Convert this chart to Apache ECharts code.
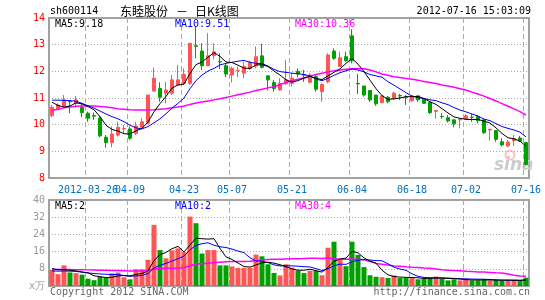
<!DOCTYPE html>
<html><head><meta charset="utf-8">
<script src="https://cdn.jsdelivr.net/npm/echarts@6/dist/echarts.min.js"></script>
<style>html,body{margin:0;padding:0;background:#fff;}#c{width:545px;height:300px;}</style>
</head><body><div id="c"></div>
<script>
const dates = ['2012-03-16','2012-03-19','2012-03-20','2012-03-21','2012-03-22','2012-03-23','2012-03-26','2012-03-27','2012-03-28','2012-03-29',
'2012-03-30','2012-04-05','2012-04-06','2012-04-09','2012-04-10','2012-04-11','2012-04-12','2012-04-13','2012-04-17','2012-04-18',
'2012-04-19','2012-04-20','2012-04-23','2012-04-24','2012-04-25','2012-04-26','2012-04-27','2012-05-02','2012-05-03','2012-05-04',
'2012-05-07','2012-05-08','2012-05-09','2012-05-10','2012-05-11','2012-05-14','2012-05-15','2012-05-16','2012-05-17','2012-05-18',
'2012-05-21','2012-05-22','2012-05-23','2012-05-24','2012-05-25','2012-05-28','2012-05-29','2012-05-30','2012-05-31','2012-06-01',
'2012-06-04','2012-06-05','2012-06-06','2012-06-07','2012-06-08','2012-06-11','2012-06-12','2012-06-13','2012-06-14','2012-06-15',
'2012-06-18','2012-06-19','2012-06-20','2012-06-21','2012-06-25','2012-06-26','2012-06-27','2012-06-28','2012-06-29','2012-07-02',
'2012-07-03','2012-07-04','2012-07-05','2012-07-06','2012-07-09','2012-07-10','2012-07-11','2012-07-12','2012-07-13','2012-07-16'];

const tickDates  = ['2012-03-26','2012-04-09','2012-04-23','2012-05-07','2012-05-21','2012-06-04','2012-06-18','2012-07-02','2012-07-16'];
const tickLabels = ['2012-03-26','04-09','04-23','05-07','05-21','06-04','06-18','07-02','07-16'];

const openP = [10.34,10.60,10.70,10.88,10.80,10.65,10.43,10.34,10.24,9.53,
9.33,9.61,9.84,9.84,9.68,9.90,10.05,11.26,11.36,11.18,
11.18,11.49,11.55,11.55,12.96,12.76,12.21,12.59,12.37,12.21,
11.86,12.02,11.93,12.11,12.20,12.58,11.83,11.58,11.30,11.53,
11.55,12.00,11.87,11.59,11.80,11.24,11.61,12.76,12.18,12.55,
13.33,11.55,11.45,11.28,11.11,10.83,11.03,10.99,11.09,11.04,
10.90,11.08,10.95,10.83,10.50,10.31,10.26,10.18,10.18,10.20,
10.28,10.30,10.18,9.80,9.78,9.36,9.20,9.40,9.50,9.33];
const closeP = [10.65,10.74,10.93,10.86,10.93,10.45,10.24,10.32,9.58,9.33,
9.65,9.90,9.86,9.49,9.95,10.11,11.11,11.74,11.03,11.30,
11.68,11.68,11.89,13.05,12.94,12.21,12.58,12.73,12.35,11.90,
12.11,12.04,12.18,12.33,12.55,12.15,11.68,11.36,11.55,11.68,
11.74,11.90,11.86,11.86,11.33,11.51,12.61,12.49,12.51,12.40,
12.40,11.53,11.11,10.93,10.78,11.08,10.86,11.18,11.08,11.03,
11.08,10.93,10.80,10.45,10.53,10.30,10.14,10.03,10.20,10.33,
10.27,10.15,9.70,9.83,9.45,9.24,9.35,9.48,9.38,8.50];
const lowP = [10.28,10.55,10.65,10.43,10.65,10.28,10.11,10.18,9.53,9.14,
9.15,9.55,9.68,9.43,9.61,9.86,10.01,11.24,10.86,10.80,
11.11,11.49,11.49,11.49,12.49,12.05,12.21,12.45,12.08,11.78,
11.58,11.78,11.74,12.05,12.11,12.11,11.28,11.24,11.28,11.49,
11.43,11.78,11.61,11.55,11.24,10.86,11.55,12.43,12.18,12.36,
12.30,11.15,11.05,10.86,10.71,10.80,10.80,10.93,10.93,10.74,
10.86,10.86,10.78,10.40,10.22,10.22,10.08,9.90,9.86,10.18,
10.11,10.05,9.65,9.40,9.36,9.18,9.15,9.20,9.36,8.48];
const highP = [10.74,10.80,11.11,10.93,11.08,10.80,10.49,10.45,10.33,9.61,
9.93,10.11,9.99,9.93,10.11,10.24,11.11,12.14,11.59,11.61,
11.86,12.24,12.11,13.05,13.68,13.05,13.43,13.05,12.68,12.30,
12.18,12.18,12.36,12.40,12.93,13.03,11.85,11.68,11.74,12.43,
11.93,12.11,12.05,11.93,11.86,11.55,12.68,12.86,12.74,12.74,
13.58,11.90,11.45,11.30,11.11,11.11,11.08,11.24,11.15,11.11,
11.11,11.08,10.99,10.86,10.53,10.43,10.36,10.20,10.22,10.40,
10.40,10.36,10.20,9.83,9.80,9.49,9.43,9.61,9.58,9.36];

const ma5 = [10.84,10.72,10.66,10.70,10.82,10.78,10.68,10.56,10.30,9.98,
9.82,9.76,9.66,9.65,9.77,9.86,10.10,10.48,10.79,11.06,
11.37,11.49,11.52,11.92,12.25,12.35,12.53,12.70,12.56,12.35,
12.33,12.23,12.12,12.11,12.24,12.25,12.18,12.01,11.86,11.68,
11.60,11.65,11.75,11.81,11.74,11.69,11.83,11.96,12.09,12.30,
12.48,12.27,11.99,11.67,11.35,11.09,10.95,10.97,11.00,11.05,
11.05,11.06,10.98,10.86,10.76,10.60,10.44,10.29,10.24,10.20,
10.19,10.20,10.13,10.06,9.88,9.67,9.51,9.47,9.38,9.19];
const ma10 = [10.92,10.92,10.91,10.90,10.88,10.80,10.71,10.62,10.51,10.40,
10.30,10.22,10.11,9.98,9.88,9.84,9.93,10.07,10.22,10.41,
10.62,10.80,11.00,11.35,11.65,11.86,12.01,12.11,12.24,12.30,
12.34,12.38,12.41,12.34,12.30,12.29,12.20,12.07,11.99,11.96,
11.93,11.91,11.88,11.83,11.71,11.65,11.74,11.85,11.95,12.02,
12.09,12.05,11.98,11.88,11.83,11.78,11.61,11.48,11.34,11.20,
11.07,11.01,10.98,10.93,10.90,10.82,10.75,10.64,10.55,10.48,
10.40,10.32,10.21,10.15,10.04,9.93,9.86,9.80,9.72,9.54];
const ma30 = [10.53,10.58,10.63,10.66,10.69,10.70,10.70,10.70,10.68,10.66,
10.63,10.60,10.58,10.56,10.55,10.55,10.55,10.56,10.58,10.60,
10.63,10.66,10.70,10.76,10.81,10.85,10.89,10.93,10.97,11.02,
11.07,11.12,11.17,11.22,11.28,11.33,11.38,11.43,11.50,11.58,
11.65,11.70,11.75,11.82,11.88,11.93,11.98,12.02,12.05,12.08,
12.10,12.11,12.10,12.05,11.98,11.90,11.85,11.80,11.77,11.73,
11.70,11.67,11.62,11.58,11.54,11.49,11.45,11.40,11.35,11.30,
11.22,11.15,11.07,10.98,10.89,10.79,10.69,10.59,10.49,10.36];

const vol = [7.6,5.5,9.6,6.3,6.0,5.3,3.4,2.7,4.3,4.0,
5.9,6.3,4.1,3.1,7.8,7.8,12.2,28.4,16.7,12.9,
16.6,17.5,15.8,32.3,29.2,15.1,16.7,16.7,9.6,9.6,
9.1,8.4,8.4,8.5,14.6,13.8,10.1,6.1,4.9,10.1,
8.5,7.2,6.0,7.1,7.0,5.0,17.8,20.6,12.3,9.2,
20.6,14.5,8.8,5.0,4.3,4.1,3.7,4.9,3.7,3.7,
3.7,3.1,3.5,3.7,4.4,3.5,2.6,3.1,2.6,3.1,
2.6,2.7,3.1,2.6,2.7,2.4,2.7,2.8,2.3,3.9];
const volMa5 = [8.1,7.6,7.6,7.3,7.0,6.54,6.12,4.74,4.34,3.94,
4.06,4.64,4.92,4.68,5.44,5.82,7.0,11.86,14.58,15.6,
17.36,18.42,15.9,19.02,22.28,21.98,21.82,22.0,17.46,13.54,
12.34,10.68,9.02,8.8,9.8,10.74,11.08,10.62,9.9,9.0,
7.94,7.36,7.34,7.78,7.16,6.46,8.58,11.5,12.54,12.98,
16.1,15.44,13.08,11.62,10.64,7.34,5.18,4.4,4.14,4.02,
3.94,3.82,3.54,3.54,3.68,3.64,3.54,3.46,3.24,2.98,
2.8,2.82,2.82,2.82,2.74,2.7,2.7,2.64,2.58,2.82];
const volMa10 = [7.0,6.9,7.0,6.9,6.8,6.4,6.1,5.8,5.6,5.47,
5.3,5.38,4.83,4.51,4.69,4.94,5.82,8.39,9.63,10.52,
11.59,12.71,13.88,16.8,18.94,19.67,20.12,18.95,18.24,17.91,
17.16,16.25,15.51,13.13,11.67,11.54,10.88,9.82,9.35,9.4,
9.34,9.22,8.98,8.84,8.08,7.2,7.97,9.42,10.16,10.07,
11.28,12.01,12.29,12.08,11.81,11.72,10.31,8.74,7.88,7.33,
5.64,4.5,3.97,3.84,3.85,3.79,3.68,3.5,3.39,3.33,
3.22,3.18,3.14,3.03,2.86,2.75,2.76,2.73,2.7,2.78];
const volMa30 = [7.7,7.7,7.7,7.7,7.6,7.6,7.5,7.4,7.3,7.3,
7.2,7.2,7.1,7.0,7.0,7.0,7.2,7.9,8.1,8.2,
8.3,8.4,8.5,9.4,10.2,10.4,10.6,10.9,11.1,11.3,
11.35,11.45,11.41,11.48,11.77,12.05,12.27,12.39,12.41,12.61,
12.70,12.73,12.79,12.92,12.9,12.8,12.99,12.73,12.58,12.46,
12.59,12.49,12.26,11.35,10.52,10.15,9.72,9.33,9.13,8.93,
8.75,8.58,8.41,8.25,7.91,7.57,7.32,7.22,7.14,6.91,
6.71,6.56,6.47,6.32,6.17,6.09,5.58,4.99,4.66,4.48];

const UP = '#ff5555', DOWN = '#00a000';
const MONO = '"DejaVu Sans Mono", monospace';
const CJK = '"Noto Sans CJK SC", sans-serif';

const candleData = openP.map((o, i) => [o, closeP[i], lowP[i], highP[i]]);
const volData = vol.map((v, i) => ({ value: v, itemStyle: { color: closeP[i] >= openP[i] ? UP : DOWN } }));
const isTick = (idx, val) => tickDates.indexOf(val) >= 0;
// the first tick label sits on its own axis so that ECharts does not drop it (or its neighbour) for overlapping
const isMainLabel = (idx, val) => tickDates.indexOf(val) > 0;
const isFirstLabel = (idx, val) => tickDates.indexOf(val) === 0;

function xAx(gi, showLabel, labelFilter, showSplit) {
  return {
    type: 'category', gridIndex: gi, data: dates, boundaryGap: true, position: 'bottom', offset: 0,
    axisLine: { show: false }, axisTick: { show: false },
    axisLabel: { show: showLabel, interval: labelFilter, formatter: v => tickLabels[tickDates.indexOf(v)],
      color: '#0070c0', fontFamily: MONO, fontSize: 10, margin: 7, hideOverlap: false },
    splitLine: { show: showSplit, interval: isTick, lineStyle: { color: '#aaaaaa', width: 1, type: [5, 3] } }
  };
}
function txt(t, x, y, color, font, align) {
  return { type: 'text', z: 50, style: { text: t, x: x, y: y, fill: color, font: font, textAlign: align || 'left', textVerticalAlign: 'middle' } };
}
const f10 = '10px ' + MONO;

const chart = echarts.init(document.getElementById('c'), null, { renderer: 'canvas', width: 545, height: 300 });
chart.setOption({
  animation: false,
  backgroundColor: '#ffffff',
  grid: [
    { left: 49, top: 18, width: 480, height: 160, show: true, borderColor: '#a0a0a0', borderWidth: 2, backgroundColor: 'transparent', containLabel: false, outerBoundsMode: 'none' },
    { left: 49, top: 200, width: 480, height: 86, show: true, borderColor: '#a0a0a0', borderWidth: 2, backgroundColor: 'transparent', containLabel: false, outerBoundsMode: 'none' }
  ],
  xAxis: [xAx(0, true, isMainLabel, true), xAx(1, false, isTick, true), xAx(0, true, isFirstLabel, false)],
  yAxis: [
    { type: 'value', gridIndex: 0, min: 8, max: 14, interval: 1, scale: true,
      axisLine: { show: false }, axisTick: { show: false },
      axisLabel: { color: '#ff0000', fontFamily: MONO, fontSize: 10, margin: 4, showMinLabel: true, showMaxLabel: true },
      splitLine: { show: true, lineStyle: { color: '#aaaaaa', width: 1, type: [1, 2] } } },
    { type: 'value', gridIndex: 1, min: 0, max: 40, interval: 8,
      axisLine: { show: false }, axisTick: { show: false },
      axisLabel: { color: '#999999', fontFamily: MONO, fontSize: 10, margin: 4, showMinLabel: true, showMaxLabel: true,
        formatter: v => v === 0 ? 'x万' : String(v) },
      splitLine: { show: true, lineStyle: { color: '#aaaaaa', width: 1, type: [1, 2] } } }
  ],
  graphic: [
    { type: 'text', z: 0, style: { text: 'sina', x: 494, y: 166, fill: '#cccccc', font: 'italic bold 17px "DejaVu Sans"', textVerticalAlign: 'middle' } },
    { type: 'circle', z: 0, shape: { cx: 510, cy: 155, r: 4.5 }, style: { fill: 'none', stroke: '#f8c4c4', lineWidth: 2 } },
    txt('sh600114', 50, 11, '#000', f10),
    txt('东睦股份', 120, 11, '#000', '12px ' + CJK),
    txt('－', 176, 11, '#000', '12px ' + CJK),
    txt('日K线图', 195, 11, '#000', '12px ' + CJK),
    txt('2012-07-16 15:03:09', 531, 11, '#000', f10, 'right'),
    txt('MA5:9.18', 55, 24, '#000000', f10),
    txt('MA10:9.51', 175, 24, '#0000ff', f10),
    txt('MA30:10.36', 295, 24, '#ff00ff', f10),
    txt('MA5:2', 55, 206, '#000000', f10),
    txt('MA10:2', 175, 206, '#0000ff', f10),
    txt('MA30:4', 295, 206, '#ff00ff', f10),
    txt('Copyright 2012 SINA.COM', 50, 292, '#666666', f10),
    txt('http://finance.sina.com.cn', 530, 292, '#666666', f10, 'right')
  ],
  series: [
    { type: 'candlestick', xAxisIndex: 0, yAxisIndex: 0, data: candleData, barWidth: 4,
      itemStyle: { color: UP, color0: DOWN, borderColor: UP, borderColor0: DOWN, borderWidth: 1 } },
    { type: 'line', xAxisIndex: 0, yAxisIndex: 0, data: ma30, showSymbol: false, symbol: 'none', lineStyle: { color: '#ff00ff', width: 1.5 } },
    { type: 'line', xAxisIndex: 0, yAxisIndex: 0, data: ma10, showSymbol: false, symbol: 'none', lineStyle: { color: '#0000ff', width: 1 } },
    { type: 'line', xAxisIndex: 0, yAxisIndex: 0, data: ma5, showSymbol: false, symbol: 'none', lineStyle: { color: '#000000', width: 1 } },
    { type: 'bar', xAxisIndex: 1, yAxisIndex: 1, data: volData, barWidth: 5 },
    { type: 'line', xAxisIndex: 1, yAxisIndex: 1, data: volMa30, showSymbol: false, symbol: 'none', lineStyle: { color: '#ff00ff', width: 1.5 } },
    { type: 'line', xAxisIndex: 1, yAxisIndex: 1, data: volMa10, showSymbol: false, symbol: 'none', lineStyle: { color: '#0000ff', width: 1 } },
    { type: 'line', xAxisIndex: 1, yAxisIndex: 1, data: volMa5, showSymbol: false, symbol: 'none', lineStyle: { color: '#000000', width: 1 } }
  ]
});
</script>
</body></html>
